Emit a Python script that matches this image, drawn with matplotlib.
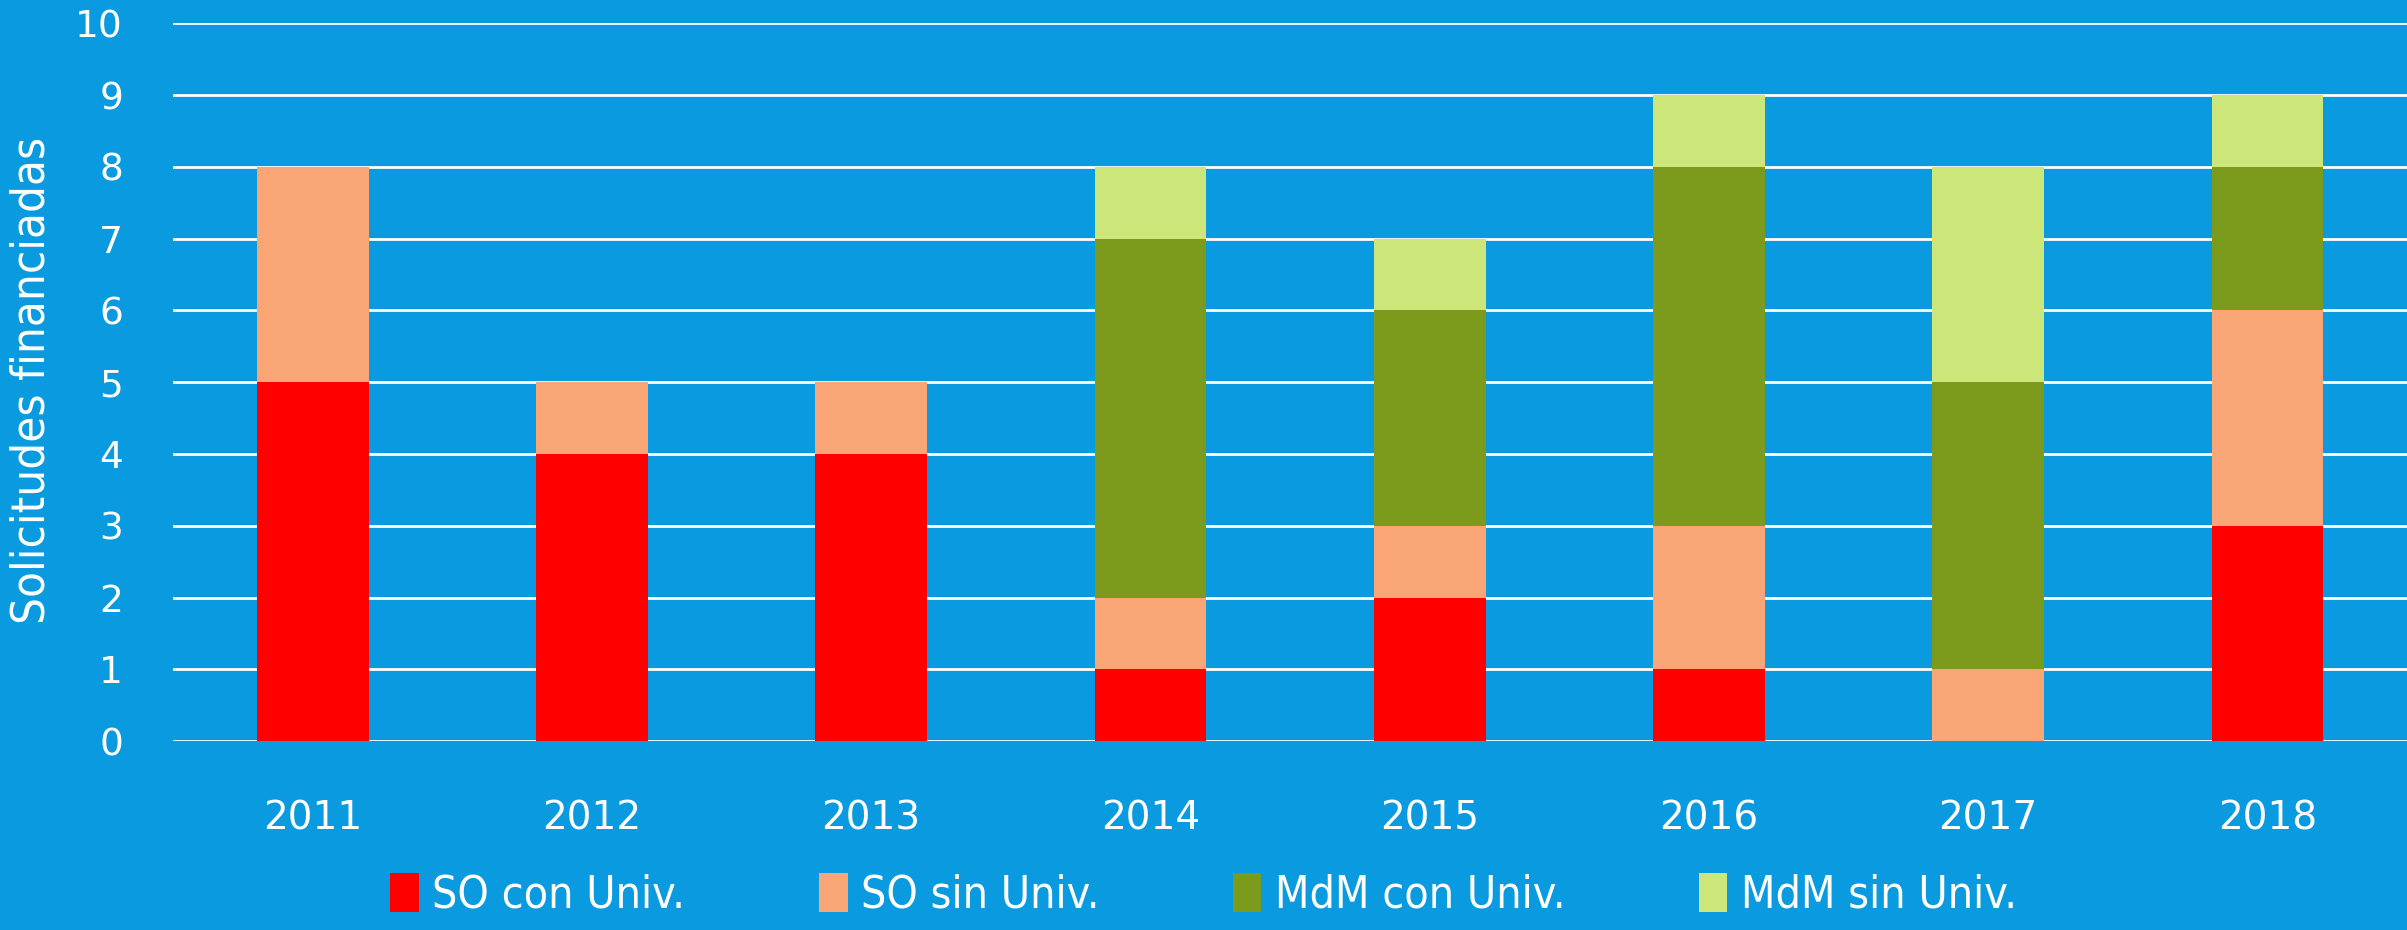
import numpy as np
import matplotlib.pyplot as plt
from matplotlib.patches import Patch
from matplotlib import font_manager

years = ["2011", "2012", "2013", "2014", "2015", "2016", "2017", "2018"]
so_con = [5, 4, 4, 1, 2, 1, 0, 3]
so_sin = [3, 1, 1, 1, 1, 2, 1, 3]
mdm_con = [0, 0, 0, 5, 3, 5, 4, 2]
mdm_sin = [0, 0, 0, 1, 1, 1, 3, 1]

series = [so_con, so_sin, mdm_con, mdm_sin]
labels = ["SO con Univ.", "SO sin Univ.", "MdM con Univ.", "MdM sin Univ."]
colors = ["#FF0000", "#F9A575", "#7C9B1C", "#CCE67A"]

bg = "#0A9ADF"

# condensed face if the system has one, otherwise a smaller regular one
cond = font_manager.FontProperties(family="DejaVu Sans", stretch="condensed")
has_cond = "Condensed" in font_manager.findfont(cond)
leg_size = 32 if has_cond else 27
ylab_size = 34 if has_cond else 28

fig = plt.figure(figsize=(24.07, 9.30), dpi=100, facecolor=bg)
ax = fig.add_axes([0.0719, 0.203, 0.9281, 0.772])
ax.set_facecolor(bg)

x = np.arange(len(years))
bottom = np.zeros(len(years))
for vals, lab, col in zip(series, labels, colors):
    ax.bar(x, vals, width=0.4, bottom=bottom, color=col, label=lab, zorder=3)
    bottom += np.array(vals)

ax.set_xlim(-0.5, len(years) - 0.5)
ax.set_ylim(0, 10)
ax.set_yticks(range(0, 11))
ax.set_xticks(x)
ax.set_xticklabels(years)
ax.yaxis.grid(True, color="white", linewidth=2, zorder=0)
ax.set_axisbelow(True)
for s in ax.spines.values():
    s.set_visible(False)
ax.tick_params(axis="both", length=0, colors="white")
ax.tick_params(axis="y", pad=36, labelsize=27)
ax.tick_params(axis="x", pad=42, labelsize=28)
ax.set_ylabel("Solicitudes financiadas", color="white", fontsize=ylab_size,
              family="DejaVu Sans", fontstretch="condensed")
ax.yaxis.set_label_coords(-0.053, 0.503)

handles = [Patch(facecolor=c) for c in colors]
fig.legend(handles, labels, loc="center", bbox_to_anchor=(0.5, 0.038), ncol=4,
           frameon=False,
           prop={"family": "DejaVu Sans", "stretch": "condensed", "size": leg_size},
           labelcolor="white", handlelength=0.65, handleheight=1.0,
           handletextpad=0.3, columnspacing=3.0)

fig.savefig("out.png", facecolor=bg)
